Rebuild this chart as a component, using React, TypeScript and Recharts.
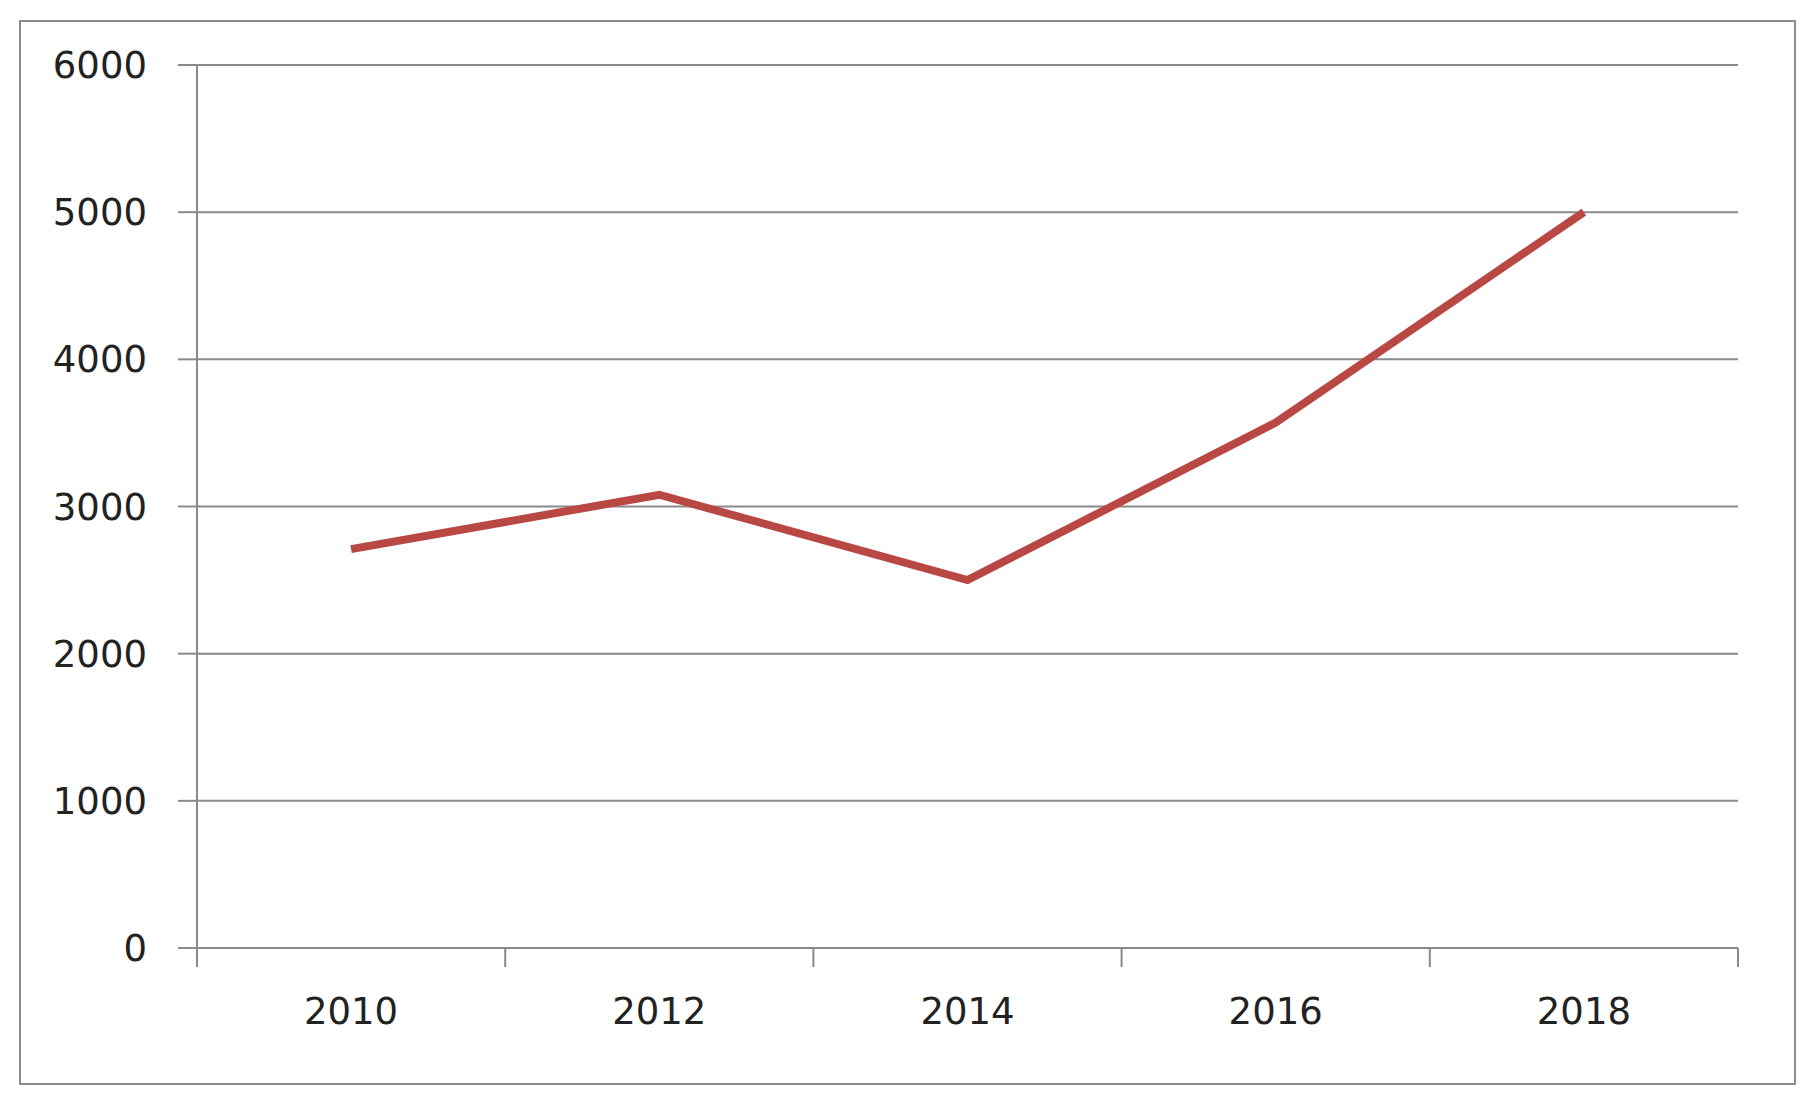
import React from 'react'
import { ComposedChart, Line, XAxis, YAxis, CartesianGrid } from 'recharts'

const years = ['2010', '2012', '2014', '2016', '2018']
const values = [2710, 3080, 2500, 3570, 5000]
const yTicks = [0, 1000, 2000, 3000, 4000, 5000, 6000]

const data = years.map((year, i) => ({ year, value: values[i] }))

const W = 1815
const H = 1107
const GRID = '#8a8a8a'
const TEXT = '#222'
const FONT = '"DejaVu Sans", "Open Sans", sans-serif'
const FONT_SIZE = 37
const TICK_SIZE = 19
const TICK_MARGIN = 31

// Excel-style category ticks: marks sit between categories, label in the middle
function CategoryTick(props: any) {
  const { x, y, payload, index } = props
  const half = payload?.offset ?? 154
  const axisY = y - TICK_SIZE - TICK_MARGIN
  const last = index === years.length - 1
  return (
    <g>
      <line x1={x - half} y1={axisY} x2={x - half} y2={axisY + TICK_SIZE} stroke={GRID} strokeWidth={2} />
      {last && (
        <line x1={x + half} y1={axisY} x2={x + half} y2={axisY + TICK_SIZE} stroke={GRID} strokeWidth={2} />
      )}
      <text x={x} y={y} dy="0.71em" textAnchor="middle" fill={TEXT} fontSize={FONT_SIZE} fontFamily={FONT}>
        {payload.value}
      </text>
    </g>
  )
}

export default function App() {
  return (
    <div style={{ position: 'absolute', left: 0, top: 0, width: W, height: H, background: '#fff' }}>
      <div
        style={{
          position: 'absolute',
          left: 19,
          top: 20,
          width: 1773,
          height: 1061,
          border: '2px solid #8c8c8c',
        }}
      />
      <div style={{ position: 'absolute', left: 0, top: 0 }}>
        <ComposedChart
          width={W}
          height={H}
          data={data}
          margin={{ top: 65, right: 77, bottom: 59, left: 47 }}
        >
          <CartesianGrid vertical={false} stroke={GRID} strokeWidth={2} />
          <XAxis
            dataKey="year"
            scale="band"
            height={100}
            axisLine={{ stroke: GRID, strokeWidth: 2 }}
            tickLine={false}
            tickSize={TICK_SIZE}
            tickMargin={TICK_MARGIN}
            tick={<CategoryTick />}
            interval={0}
          />
          <YAxis
            width={150}
            domain={[0, 6000]}
            ticks={yTicks}
            axisLine={{ stroke: GRID, strokeWidth: 2 }}
            tickLine={{ stroke: GRID, strokeWidth: 2 }}
            tickSize={TICK_SIZE}
            tickMargin={TICK_MARGIN}
            tick={{ fill: TEXT, fontSize: FONT_SIZE, fontFamily: FONT }}
          />
          <Line
            type="linear"
            dataKey="value"
            stroke="#b94845"
            strokeWidth={8}
            dot={false}
            activeDot={false}
            isAnimationActive={false}
          />
        </ComposedChart>
      </div>
    </div>
  )
}
